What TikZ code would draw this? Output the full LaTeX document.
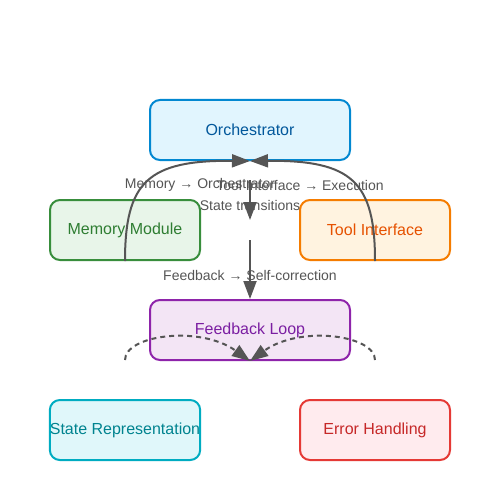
\documentclass[tikz,border=0pt]{standalone}
\usepackage{fontspec}
\setmainfont{Liberation Sans}
\usetikzlibrary{arrows.meta}
\definecolor{orchfill}{HTML}{E1F5FE}
\definecolor{orchline}{HTML}{0288D1}
\definecolor{orchtext}{HTML}{01579B}
\definecolor{memfill}{HTML}{E8F5E9}
\definecolor{memline}{HTML}{388E3C}
\definecolor{memtext}{HTML}{2E7D32}
\definecolor{toolfill}{HTML}{FFF3E0}
\definecolor{toolline}{HTML}{F57C00}
\definecolor{tooltext}{HTML}{E65100}
\definecolor{fbfill}{HTML}{F3E5F5}
\definecolor{fbline}{HTML}{8E24AA}
\definecolor{fbtext}{HTML}{7B1FA2}
\definecolor{statefill}{HTML}{E0F7FA}
\definecolor{stateline}{HTML}{00ACC1}
\definecolor{statetext}{HTML}{00838F}
\definecolor{errfill}{HTML}{FFEBEE}
\definecolor{errline}{HTML}{E53935}
\definecolor{errtext}{HTML}{C62828}
\definecolor{flow}{HTML}{555555}

\begin{document}
\begin{tikzpicture}[x=1pt,y=-1pt,
    box/.style={draw,rounded corners=10pt,line width=2pt,minimum height=60pt,inner sep=0pt,font=\fontsize{16}{19}\selectfont},
    lbl/.style={text=flow,font=\fontsize{14}{17}\selectfont,inner sep=0pt},
    flowline/.style={draw=flow,line width=2pt,-{Triangle[length=18pt,width=13pt]}}]
      \useasboundingbox[fill=white] (0,0) rectangle (500,500);

      \node[box,minimum width=200pt,fill=orchfill,draw=orchline,text=orchtext] (orch) at (250,130) {Orchestrator};
      \node[box,minimum width=150pt,fill=memfill,draw=memline,text=memtext] (mem) at (125,230) {Memory Module};
      \node[box,minimum width=150pt,fill=toolfill,draw=toolline,text=tooltext] (tool) at (375,230) {Tool Interface};
      \node[box,minimum width=200pt,fill=fbfill,draw=fbline,text=fbtext] (fb) at (250,330) {Feedback Loop};
      \node[box,minimum width=150pt,fill=statefill,draw=stateline,text=statetext] (state) at (125,430) {State Representation};
      \node[box,minimum width=150pt,fill=errfill,draw=errline,text=errtext] (err) at (375,430) {Error Handling};

      \draw[flowline] (mem.south) .. controls (125,182) and (148,160) .. (orch.south);
      \draw[flowline] (tool.south) .. controls (375,182) and (352,160) .. (orch.south);

      \coordinate (st1) at (250,180);
      \coordinate (st2) at (250,220);
      \coordinate (fb1) at (250,240);
      \draw[flowline] (st1) -- (st2);
      \draw[flowline] (fb1) -- (fb.north);

      \coordinate (dl) at (125,360);
      \coordinate (dr) at (375,360);
      \draw[flowline,dash pattern=on 5pt off 4pt] (dl) .. controls (125,335) and (200,325) .. (fb.south);
      \draw[flowline,dash pattern=on 5pt off 4pt] (dr) .. controls (375,335) and (300,325) .. (fb.south);

      \node[lbl] (memlbl) at (200,185) {Memory → Orchestrator};
      \node[lbl] (toollbl) at (300,185) {Tool Interface → Execution};
      \node[lbl] (stlbl) at (250,205) {State transitions};
      \node[lbl] (fblbl) at (250,275) {Feedback → Self-correction};
    \end{tikzpicture}
\end{document}
